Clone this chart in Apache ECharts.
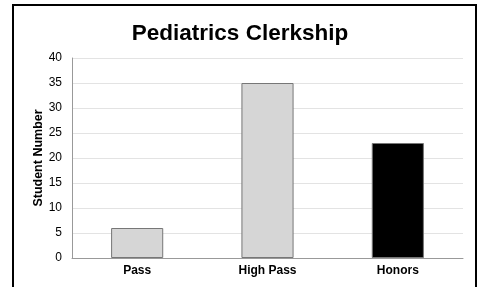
<!DOCTYPE html>
<html><head><meta charset="utf-8">
<script src="https://cdn.jsdelivr.net/npm/echarts@6/dist/echarts.min.js"></script>
<style>html,body{margin:0;padding:0;background:#fff;}#c{width:480px;height:287px;}</style>
</head><body><div id="c"></div>
<script>
const categories = ['Pass', 'High Pass', 'Honors'];
const values = [6, 35, 23];
const barColors = ['#d6d6d6', '#d6d6d6', '#000000'];
const title = 'Pediatrics Clerkship';
const yName = 'Student Number';

const chart = echarts.init(document.getElementById('c'), null, {renderer: 'canvas'});
chart.setOption({
  animation: false,
  graphic: [{type: 'rect', shape: {x: 13, y: 5, width: 463, height: 300}, style: {fill: 'none', stroke: '#000', lineWidth: 2}, z: 100}],
  title: {text: title, left: 'center', top: 17, textStyle: {fontFamily: 'Liberation Sans', fontWeight: 'bold', fontSize: 22.5, color: '#000'}},
  grid: {left: 72, right: 17, top: 58, bottom: 29},
  xAxis: {type: 'category', data: categories,
    axisLine: {lineStyle: {color: '#999'}}, axisTick: {show: false},
    axisLabel: {fontFamily: 'Liberation Sans', fontWeight: 'bold', fontSize: 12, color: '#000', margin: 7}},
  yAxis: {type: 'value', min: 0, max: 40, interval: 5, name: yName, nameLocation: 'middle', nameGap: 27, nameMoveOverlap: false,
    nameTextStyle: {fontFamily: 'Liberation Sans', fontWeight: 'bold', fontSize: 12.5, color: '#000'},
    axisLine: {show: true, lineStyle: {color: '#999'}}, axisTick: {show: false},
    axisLabel: {fontFamily: 'Liberation Sans', fontSize: 12, color: '#000', margin: 10},
    splitLine: {lineStyle: {color: '#e3e3e3'}}},
  series: [{type: 'bar', barWidth: '40%',
    data: values.map((v, i) => ({value: v, itemStyle: {color: barColors[i], borderColor: '#777', borderWidth: 1}}))}]
});
</script></body></html>
